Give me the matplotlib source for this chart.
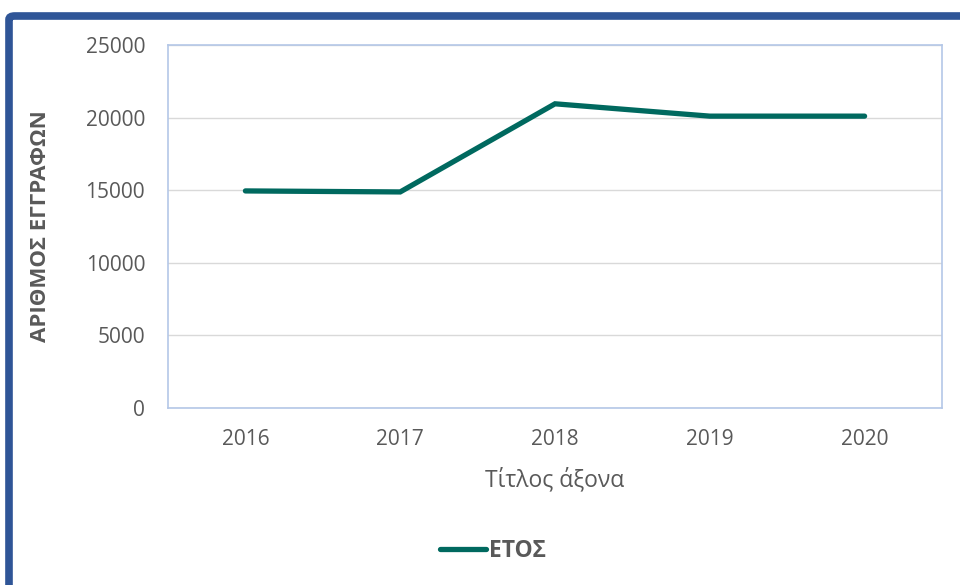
import matplotlib.pyplot as plt
from matplotlib.patches import FancyBboxPatch
from matplotlib.lines import Line2D

plt.rcParams['font.family'] = ['Open Sans', 'DejaVu Sans']

years = ['2016', '2017', '2018', '2019', '2020']
records = [14950, 14880, 20950, 20100, 20100]
series_name = 'ΕΤΟΣ'

text_col = '#595959'
line_col = '#00695F'

fig = plt.figure(figsize=(9.6, 5.85), dpi=100)

# dark blue outer frame (top + left edges visible)
frame = FancyBboxPatch((9 / 960, -0.2), 1.2, (585 - 16) / 585 + 0.2,
                       boxstyle='round,pad=0,rounding_size=0.006',
                       transform=fig.transFigure, facecolor='none',
                       edgecolor='#2F5597', linewidth=5.5, zorder=-1)
fig.patches.append(frame)

ax = fig.add_axes([168 / 960, 1 - 408 / 585, (942 - 168) / 960, (408 - 45) / 585])
ax.set_zorder(2)
x = list(range(len(years)))
ax.plot(x, records, color=line_col, lw=3.8, solid_capstyle='round',
        solid_joinstyle='miter', zorder=3)

ax.set_xlim(-0.5, len(years) - 0.5)
ax.set_ylim(0, 25000)
ax.set_yticks(range(0, 25001, 5000))
ax.set_xticks(x)
ax.set_xticklabels(years)
ax.grid(axis='y', color='#D9D9D9', lw=1)
ax.set_axisbelow(True)
for s in ax.spines.values():
    s.set_color('#B4C7E7')
    s.set_linewidth(1.2)
ax.tick_params(length=0, colors=text_col, labelsize=15)
ax.tick_params(axis='y', pad=16.5)
ax.tick_params(axis='x', pad=15)

ax.set_xlabel('Τίτλος άξονα', fontsize=16.5, color=text_col, labelpad=13)
ax.set_ylabel('ΑΡΙΘΜΟΣ ΕΓΓΡΑΦΩΝ', fontsize=16, color=text_col,
              fontweight='bold', labelpad=25)

handle = Line2D([], [], color=line_col, lw=3.8, solid_capstyle='round')
leg = fig.legend([handle], [series_name], loc='center',
                 bbox_to_anchor=(493 / 960, 1 - 551 / 585), frameon=False,
                 handlelength=2.0, handletextpad=0.1,
                 prop={'size': 16.5, 'weight': 'bold'})
for t in leg.get_texts():
    t.set_color(text_col)

fig.savefig('out.png', dpi=100)
